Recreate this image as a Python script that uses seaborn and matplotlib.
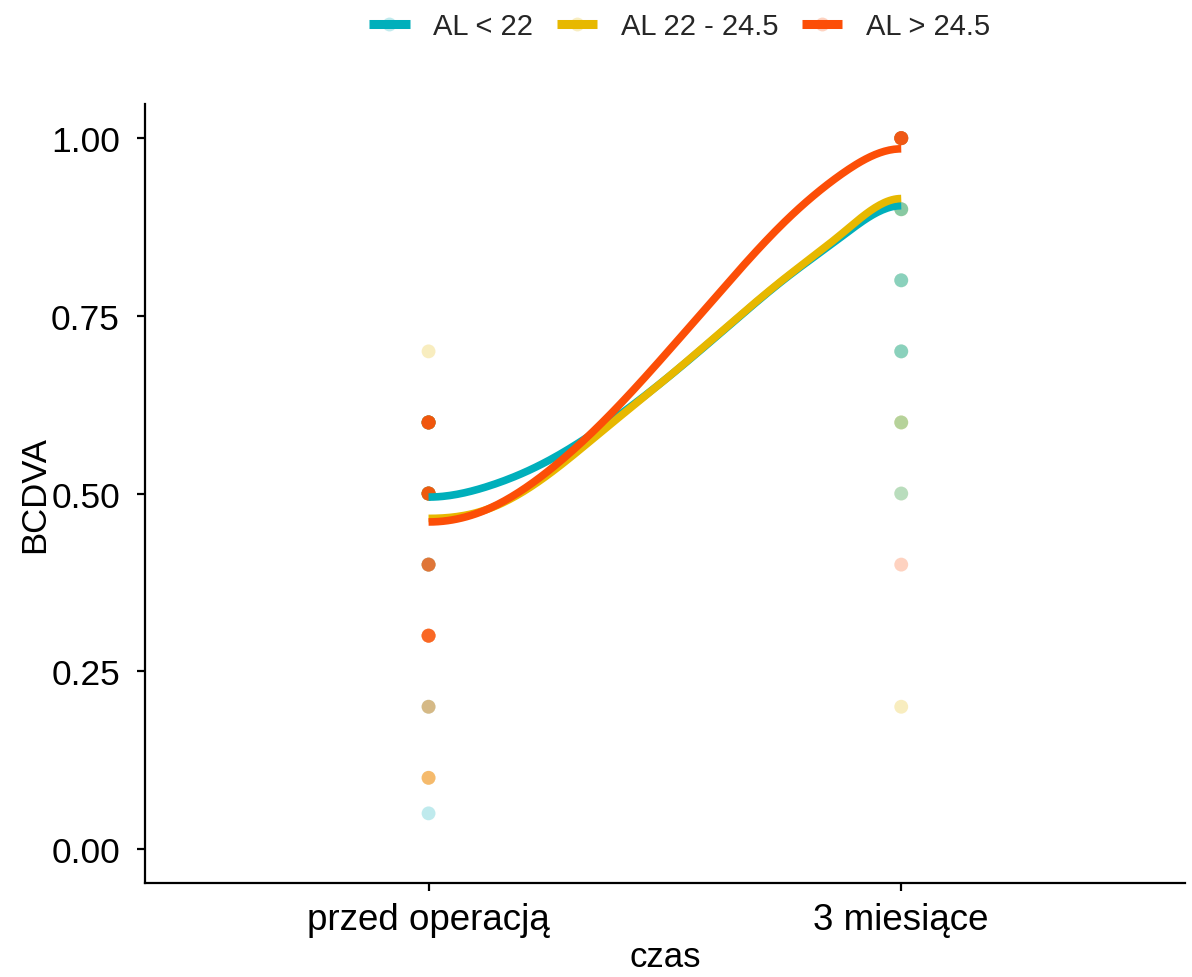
import matplotlib
matplotlib.use("Agg")
import matplotlib.pyplot as plt
from matplotlib.lines import Line2D
from matplotlib.legend_handler import HandlerTuple
import numpy as np
import pandas as pd
import seaborn as sns

# Groups and palette
groups = ["AL < 22", "AL 22 - 24.5", "AL > 24.5"]
colors = ["#00AFBB", "#E7B800", "#FC4E07"]
time_labels = ["przed operacją", "3 miesiące"]

# BCDVA observations per group, before surgery
pre_teal = [0.05, 0.2, 0.4, 0.4, 0.5, 0.5, 0.5, 0.5, 0.5,
            0.6, 0.6, 0.6, 0.6, 0.6, 0.6]
pre_gold = [0.1, 0.1, 0.2, 0.3, 0.4, 0.5, 0.5, 0.5,
            0.6, 0.6, 0.6, 0.7]
pre_orange = [0.1, 0.2, 0.3, 0.3, 0.3, 0.3, 0.3, 0.3,
              0.4, 0.4, 0.4, 0.4, 0.5, 0.5, 0.5, 0.5, 0.5, 0.5, 0.5,
              0.6, 0.6, 0.6, 0.6, 0.6, 0.6, 0.6, 0.6]

# BCDVA observations per group, 3 months after surgery
post_teal = [0.5, 0.6, 0.7, 0.7, 0.8, 0.8, 0.9, 0.9, 1.0, 1.0]
post_gold = [0.2, 0.5, 0.6, 0.6, 0.7, 0.8, 0.9, 0.9, 1.0, 1.0]
post_orange = [0.4, 1.0, 1.0, 1.0, 1.0, 1.0, 1.0, 1.0, 1.0]

# Smoothed trend of BCDVA per group along the time axis
trend_x = [0.0, 0.125, 0.25, 0.375, 0.5, 0.625, 0.75, 0.875, 1.0]
trend_teal = [0.495, 0.510, 0.545, 0.597, 0.660, 0.730, 0.800, 0.862, 0.905]
trend_gold = [0.465, 0.478, 0.525, 0.592, 0.660, 0.731, 0.801, 0.866, 0.915]
trend_orange = [0.460, 0.478, 0.530, 0.605, 0.695, 0.790, 0.880, 0.950, 0.985]

trends = [trend_teal, trend_gold, trend_orange]

# Long table of observations, in drawing order
rows = []
for g, vals in [(groups[0], pre_teal), (groups[1], pre_gold),
                (groups[2], pre_orange)]:
    rows += [(g, 0, v) for v in vals]
for g, vals in [(groups[1], post_gold), (groups[0], post_teal),
                (groups[2], post_orange)]:
    rows += [(g, 1, v) for v in vals]
points = pd.DataFrame(rows, columns=["grupa", "czas", "BCDVA"])


def clamped_spline(x, y, n=200):
    """Cubic spline through (x, y) with zero slope at both ends."""
    x = np.asarray(x, float)
    y = np.asarray(y, float)
    k = len(x)
    h = np.diff(x)
    A = np.zeros((k, k))
    b = np.zeros(k)
    A[0, 0], A[0, 1] = 2 * h[0], h[0]
    b[0] = 6 * ((y[1] - y[0]) / h[0])
    A[-1, -2], A[-1, -1] = h[-1], 2 * h[-1]
    b[-1] = 6 * (-(y[-1] - y[-2]) / h[-1])
    for i in range(1, k - 1):
        A[i, i - 1] = h[i - 1]
        A[i, i] = 2 * (h[i - 1] + h[i])
        A[i, i + 1] = h[i]
        b[i] = 6 * ((y[i + 1] - y[i]) / h[i] - (y[i] - y[i - 1]) / h[i - 1])
    M = np.linalg.solve(A, b)
    xs = np.linspace(x[0], x[-1], n)
    idx = np.clip(np.searchsorted(x, xs) - 1, 0, k - 2)
    x0, x1 = x[idx], x[idx + 1]
    hh = h[idx]
    ys = (M[idx] * (x1 - xs) ** 3 / (6 * hh)
          + M[idx + 1] * (xs - x0) ** 3 / (6 * hh)
          + (y[idx] / hh - M[idx] * hh / 6) * (x1 - xs)
          + (y[idx + 1] / hh - M[idx + 1] * hh / 6) * (xs - x0))
    return xs, ys


curves = []
for g, t in zip(groups, trends):
    xs, ys = clamped_spline(trend_x, t)
    curves.append(pd.DataFrame({"grupa": g, "czas": xs, "BCDVA": ys}))
curves = pd.concat(curves, ignore_index=True)

sns.set_theme(style="ticks")
plt.rcParams["font.family"] = ["Liberation Sans", "DejaVu Sans"]

fig = plt.figure(figsize=(11.92, 9.78), dpi=100)
ax = fig.add_axes([0.1216, 0.0961, 0.8724, 0.7965])

alpha = 0.25
sns.scatterplot(data=points, x="czas", y="BCDVA", hue="grupa",
                hue_order=groups, palette=colors, alpha=alpha, s=100,
                linewidth=0, legend=False, ax=ax, zorder=2)

sns.lineplot(data=curves, x="czas", y="BCDVA", hue="grupa",
             hue_order=groups, palette=colors, lw=5.5, legend=False,
             ax=ax, zorder=3, solid_capstyle="butt", sort=False,
             estimator=None)

ax.set_xlim(-0.6, 1.6)
ax.set_ylim(-0.048, 1.048)
ax.set_xticks([0, 1])
ax.set_xticklabels(time_labels)
ax.set_yticks([0, 0.25, 0.5, 0.75, 1.0])
ax.set_yticklabels(["0.00", "0.25", "0.50", "0.75", "1.00"])
ax.set_xlabel("czas", fontsize=25, color="black", labelpad=2)
ax.set_ylabel("BCDVA", fontsize=25, color="black", labelpad=0)

for side in ["top", "right"]:
    ax.spines[side].set_visible(False)
for side in ["left", "bottom"]:
    ax.spines[side].set_linewidth(1.6)
    ax.spines[side].set_color("black")
ax.tick_params(axis="both", length=6, width=1.6, color="black",
               labelcolor="black")
ax.tick_params(axis="y", pad=12, labelsize=25.5)
ax.tick_params(axis="x", pad=8, labelsize=26.5)

handles = []
for c in colors:
    dot = Line2D([], [], marker="o", linestyle="none", markersize=10,
                 markerfacecolor=matplotlib.colors.to_rgba(c, alpha),
                 markeredgewidth=0)
    line = Line2D([], [], color=c, lw=6.5, solid_capstyle="butt")
    handles.append((dot, line))
fig.legend(handles, groups, loc="center", bbox_to_anchor=(0.57, 0.972),
           ncol=3, frameon=False, fontsize=21, handlelength=1.4,
           handletextpad=0.8, columnspacing=0.8,
           handler_map={tuple: HandlerTuple(ndivide=1)})

fig.savefig("out.png", dpi=100)
